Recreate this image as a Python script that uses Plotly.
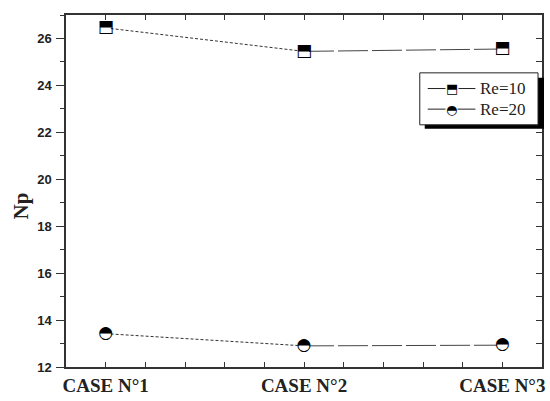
import plotly.graph_objects as go

cases = ["CASE N°1", "CASE N°2", "CASE N°3"]
case_pos = [1, 2, 3]
np_re10 = [26.45, 25.45, 25.55]
np_re20 = [13.42, 12.90, 12.93]
series_names = ["Re=10", "Re=20"]

W, H = 550, 401
L, R, T, B = 66, 5, 15, 27
PW, PH = W - L - R, H - T - B

def px(x):
    return (x - L) / PW

def py(y):
    return 1 - (y - T) / PH

fig = go.Figure()

for vals, glyph in [(np_re10, "⬒"), (np_re20, "◓")]:
    fig.add_trace(go.Scatter(x=case_pos[:2], y=vals[:2], mode="lines",
                             line=dict(color="#333", width=1, dash="3px,2px"),
                             showlegend=False, hoverinfo="skip"))
    fig.add_trace(go.Scatter(x=case_pos[1:], y=vals[1:], mode="lines",
                             line=dict(color="#444", width=1, dash="30px,4px"),
                             showlegend=False, hoverinfo="skip"))
    fig.add_trace(go.Scatter(x=case_pos, y=vals, mode="markers",
                             marker=dict(symbol="square" if glyph == "⬒" else "circle",
                                         size=10, color="white",
                                         line=dict(width=0)),
                             showlegend=False, hoverinfo="skip"))
    fig.add_trace(go.Scatter(x=case_pos, y=vals, mode="text", text=[glyph] * 3,
                             textposition="middle center",
                             textfont=dict(family="DejaVu Sans", size=17, color="black"),
                             showlegend=False, hoverinfo="skip"))

# secondary axis for inward right ticks
fig.add_trace(go.Scatter(x=[None], y=[None], yaxis="y2", showlegend=False))

axis_color = "#333"
fig.update_layout(
    width=W, height=H,
    margin=dict(l=L, r=R, t=T, b=B),
    paper_bgcolor="white", plot_bgcolor="white",
    showlegend=False,
    xaxis=dict(range=[0.8, 3.2], tickvals=case_pos, ticktext=cases,
               ticks="inside", ticklen=5, tickwidth=1.2, tickcolor=axis_color,
               minor=dict(dtick=0.2, tick0=0, ticks="inside", ticklen=5,
                          tickwidth=1.2, tickcolor=axis_color),
               showline=True, linecolor=axis_color, linewidth=1.5, mirror="ticks",
               showgrid=False, zeroline=False,
               tickfont=dict(family="Liberation Serif", size=19, color="#222",
                             weight="bold"),
               ticklabelstandoff=0),
    yaxis=dict(range=[12, 27], dtick=2, tick0=12,
               ticks="outside", ticklen=8, tickwidth=1.2, tickcolor=axis_color,
               minor=dict(dtick=1, ticks="outside", ticklen=4, tickwidth=1.2,
                          tickcolor=axis_color),
               showline=True, linecolor=axis_color, linewidth=1.5, mirror=True,
               showgrid=False, zeroline=False,
               tickfont=dict(family="Liberation Sans", size=13, color="#222",
                             weight="bold"),
               ticklabelstandoff=2),
    yaxis2=dict(range=[12, 27], dtick=2, tick0=12, overlaying="y", side="right",
                ticks="inside", ticklen=6, tickwidth=1.2, tickcolor=axis_color,
                minor=dict(dtick=1, ticks="inside", ticklen=6, tickwidth=1.2,
                           tickcolor=axis_color),
                showticklabels=False, showgrid=False, zeroline=False, showline=False),
)

# y-axis title
fig.add_annotation(text="<b>Np</b>", xref="paper", yref="paper", x=px(21), y=py(210),
                   xanchor="center", yanchor="middle",
                   textangle=-90, showarrow=False,
                   font=dict(family="Liberation Serif", size=21, color="#222"))

# custom legend with shadow
fig.add_shape(type="rect", xref="paper", yref="paper",
              x0=px(427), x1=px(547), y0=py(79), y1=py(131),
              fillcolor="black", line=dict(width=0), layer="above")
fig.add_shape(type="rect", xref="paper", yref="paper",
              x0=px(422), x1=px(541), y0=py(74), y1=py(127),
              fillcolor="white", line=dict(color="#222", width=1), layer="above")
for i, (name, glyph) in enumerate(zip(series_names, ["⬒", "◓"])):
    yy = [90, 111][i]
    fig.add_shape(type="line", xref="paper", yref="paper",
                  x0=px(430), x1=px(478), y0=py(yy), y1=py(yy),
                  line=dict(color="#222", width=1), layer="above")
    fig.add_annotation(text=glyph, xref="paper", yref="paper", x=px(454), y=py(yy),
                       xanchor="center", yanchor="middle",
                       showarrow=False, font=dict(family="DejaVu Sans", size=13, color="black"),
                       bgcolor="white", borderpad=0)
    fig.add_annotation(text=name, xref="paper", yref="paper", x=px(481), y=py(yy),
                       xanchor="left", yanchor="middle", showarrow=False,
                       font=dict(family="Liberation Serif", size=17, color="#222"))

fig.write_html("out.html")
